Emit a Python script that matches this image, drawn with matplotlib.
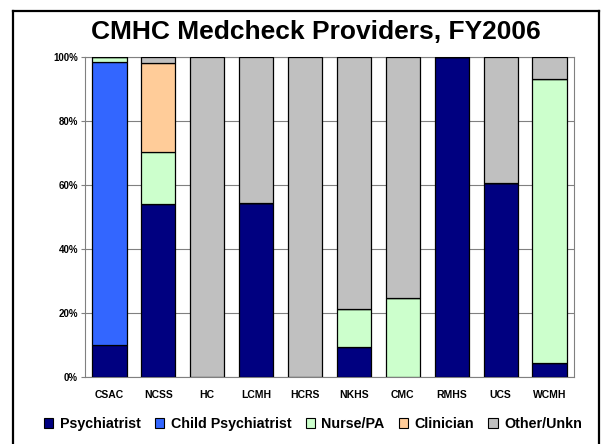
import matplotlib
matplotlib.use("Agg")
import matplotlib.pyplot as plt
from matplotlib.lines import Line2D
from matplotlib.patches import Patch
import numpy as np

plt.rcParams['font.family'] = ['Liberation Sans', 'DejaVu Sans']

categories = ["CSAC", "NCSS", "HC", "LCMH", "HCRS", "NKHS", "CMC", "RMHS", "UCS", "WCMH"]
psychiatrist = [10.0, 54.0, 0, 54.3, 0, 9.4, 0, 100, 60.5, 4.5]
child_psychiatrist = [88.3, 0, 0, 0, 0, 0, 0, 0, 0, 0]
nurse_pa = [1.7, 16.3, 0, 0, 0, 11.8, 24.8, 0, 0, 88.5]
clinician = [0, 27.7, 0, 0, 0, 0, 0, 0, 0, 0]
other_unkn = [0, 2.0, 100, 45.7, 100, 78.8, 75.2, 0, 39.5, 7.0]

series_names = ["Psychiatrist", "Child Psychiatrist", "Nurse/PA", "Clinician", "Other/Unkn"]
series = [psychiatrist, child_psychiatrist, nurse_pa, clinician, other_unkn]
colors = ["#000080", "#3366FF", "#CCFFCC", "#FFCC99", "#C0C0C0"]
yticks = [0, 20, 40, 60, 80, 100]
yticklabels = ["0%", "20%", "40%", "60%", "80%", "100%"]

fig = plt.figure(figsize=(6.02, 4.44), dpi=100)
W, H = 602, 444
ax = fig.add_axes([85 / W, 1 - 377 / H, (574 - 85) / W, (377 - 57) / H])

x = np.arange(len(categories))
bottom = np.zeros(len(categories))
for name, vals, c in zip(series_names, series, colors):
    vals = np.array(vals, dtype=float)
    ax.bar(x, vals, width=0.7, bottom=bottom, color=c, edgecolor="black",
           linewidth=0.9, zorder=3, label=name)
    bottom += vals

ax.set_xlim(-0.5, len(categories) - 0.5)
ax.set_ylim(0, 100)
ax.set_yticks(yticks)
ax.set_yticklabels(yticklabels, fontsize=7, fontweight="bold")
ax.set_xticks(x)
ax.set_xticklabels(categories, fontsize=7.5, fontweight="bold")
ax.tick_params(axis="x", length=0, pad=9)
ax.tick_params(axis="y", length=3, width=0.8, color="#808080", pad=2)
ax.grid(axis="y", color="#808080", linewidth=0.8, zorder=0)
for s in ["top", "right", "left", "bottom"]:
    ax.spines[s].set_color("#808080")
    ax.spines[s].set_linewidth(0.8)

fig.text(316 / W, 1 - 39 / H, "CMHC Medcheck Providers, FY2006", ha="center", va="baseline",
         fontsize=19, fontweight="bold")

handles = [Patch(facecolor=c, edgecolor="black", linewidth=0.8) for c in colors]
leg = fig.legend(handles, series_names, loc="center", bbox_to_anchor=(313 / W, 1 - 424 / H),
                 ncol=5, frameon=False, prop={"size": 10.3, "weight": "bold"},
                 handlelength=0.65, handleheight=0.65, handletextpad=0.45, columnspacing=1.0,
                 borderpad=0)

# outer frame
frame_lw = 1.6
fig.add_artist(Line2D([13 / W, 13 / W], [0, 1 - 11 / H], transform=fig.transFigure,
                      color="black", linewidth=frame_lw))
fig.add_artist(Line2D([599 / W, 599 / W], [0, 1 - 11 / H], transform=fig.transFigure,
                      color="black", linewidth=frame_lw))
fig.add_artist(Line2D([13 / W, 599 / W], [1 - 11 / H, 1 - 11 / H], transform=fig.transFigure,
                      color="black", linewidth=frame_lw))

fig.savefig("out.png", dpi=100)
